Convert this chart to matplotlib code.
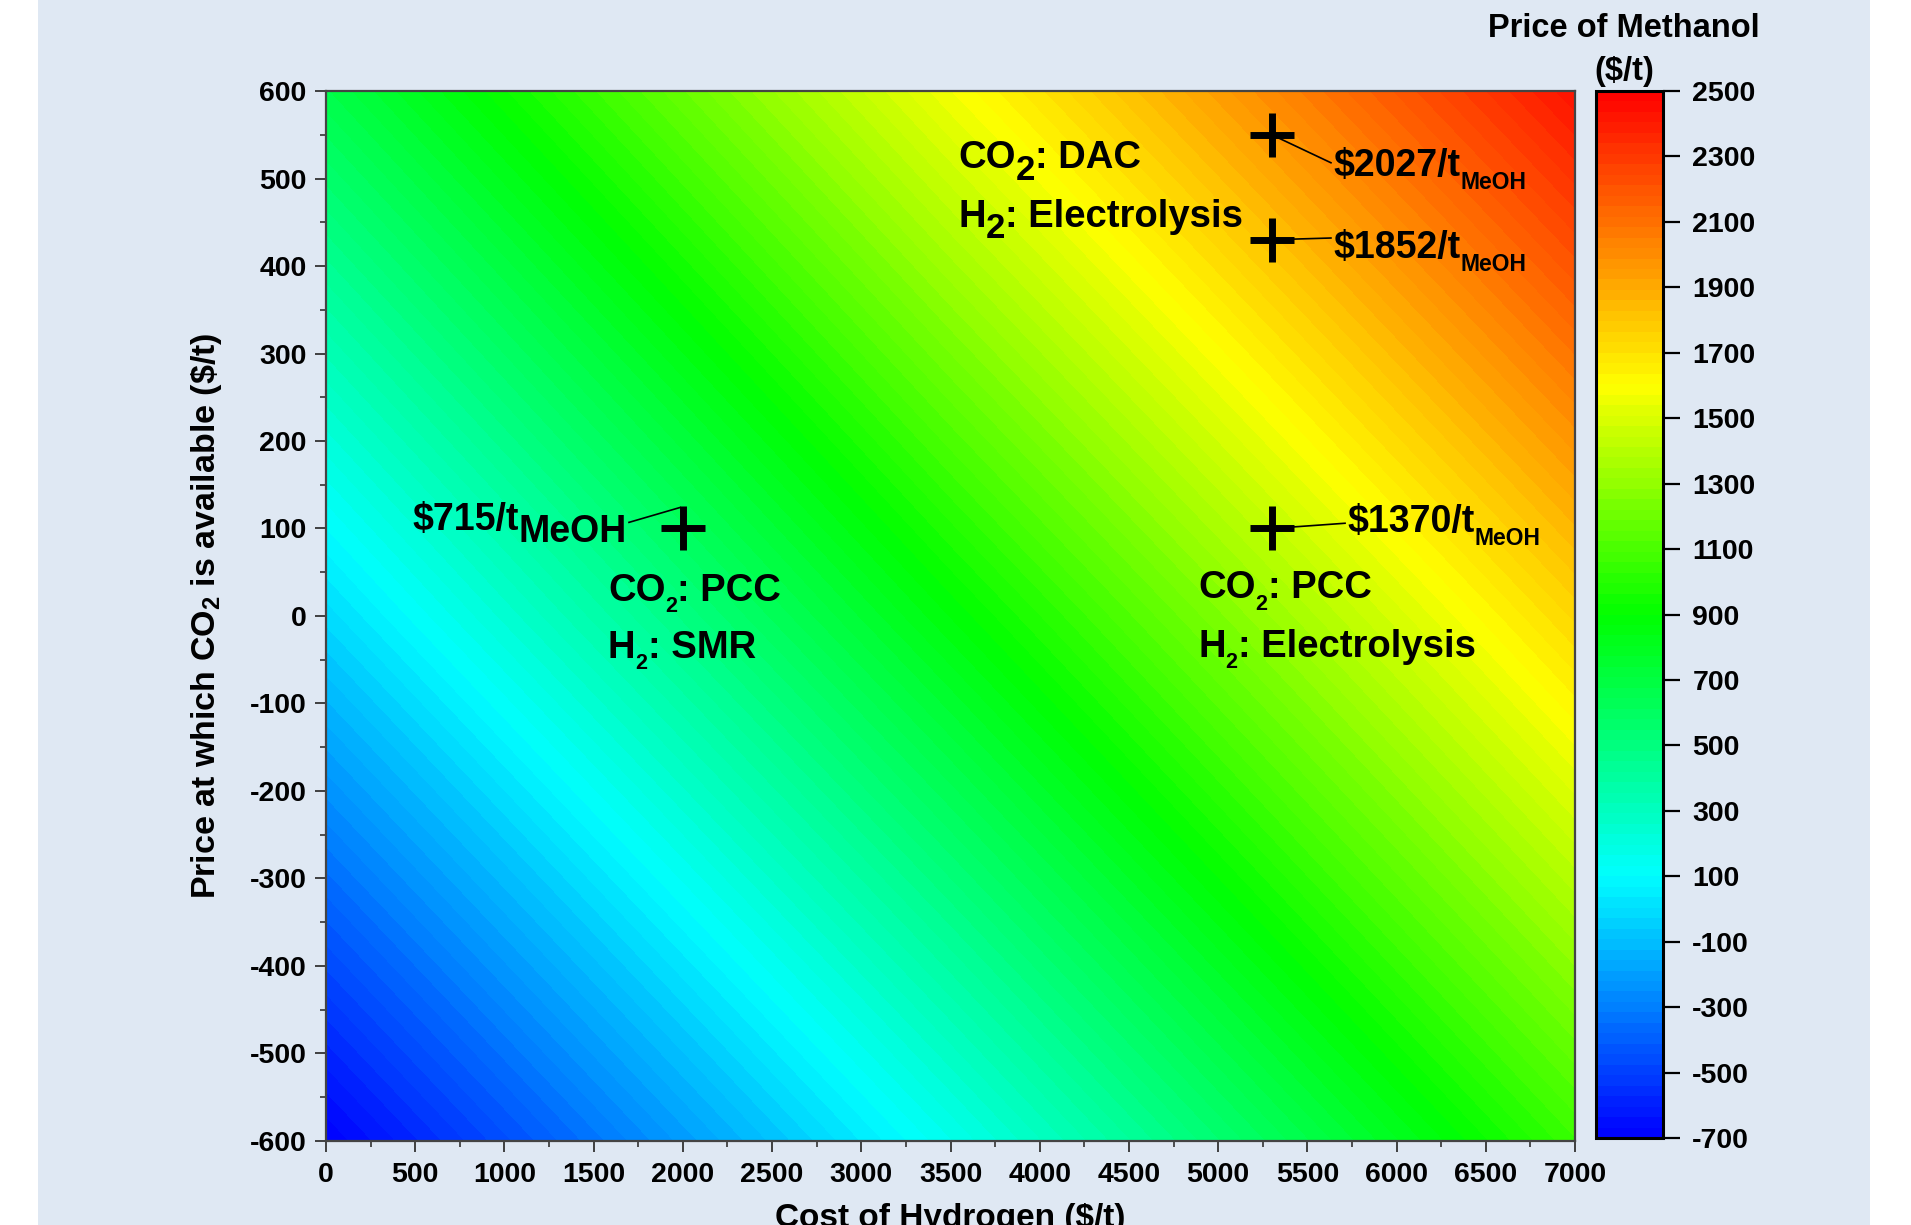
import numpy as np
import matplotlib
matplotlib.use('Agg')
import matplotlib.pyplot as plt
from matplotlib.colors import LinearSegmentedColormap
from matplotlib.patches import Rectangle
from matplotlib import transforms

plt.rcParams['font.family'] = ['Liberation Sans', 'DejaVu Sans']
plt.rcParams['font.weight'] = 'bold'
plt.rcParams['axes.labelweight'] = 'bold'
plt.rcParams['axes.unicode_minus'] = False
plt.rcParams['mathtext.fontset'] = 'custom'
plt.rcParams['mathtext.rm'] = 'Liberation Sans:bold'
plt.rcParams['mathtext.bf'] = 'Liberation Sans:bold'
plt.rcParams['mathtext.it'] = 'Liberation Sans:bold'

# methanol price surface (rows: CO2 price, cols: H2 cost)
grid_h2 = [0, 3500, 7000]
grid_co2 = [-600, 0, 600]
surface = [[-700, 160, 1055],
           [-15, 870, 1740],
           [670, 1570, 2430]]

# marked cases
h2_cost = [2000, 5300, 5300, 5300]
co2_price = [100, 100, 430, 550]
meoh_price = [715, 1370, 1852, 2027]

x_ticks = list(range(0, 7001, 500))
y_ticks = list(range(-600, 601, 100))
cb_ticks = list(range(-700, 2501, 200))

# rainbow palette (blue -> cyan -> green -> yellow -> red)
cmap = LinearSegmentedColormap.from_list(
    'rainbow_pal', [(0.0, '#0000ff'), (0.25, '#00ffff'), (0.5, '#00ff00'),
                    (0.72, '#ffff00'), (1.0, '#ff0000')])
levels = np.linspace(-700, 2500, 101)

fig = plt.figure(figsize=(19.11, 12.25), dpi=100)
fig.patch.set_facecolor('white')
fig.add_artist(Rectangle((38 / 1911, 0), 1832 / 1911, 1, transform=fig.transFigure,
                         facecolor='#dfe8f3', edgecolor='none', zorder=-10))

ax = fig.add_axes([0.1706, 0.0686, 0.6536, 0.8571])
cax = fig.add_axes([0.8352, 0.0710, 0.0351, 0.8547])

cf = ax.contourf(grid_h2, grid_co2, surface, levels=levels, cmap=cmap)
ax.set_xlim(0, 7000)
ax.set_ylim(-600, 600)
ax.set_xticks(x_ticks)
ax.set_yticks(y_ticks)
ax.set_xticks(np.arange(250, 7000, 500), minor=True)
ax.set_yticks(np.arange(-550, 600, 100), minor=True)
ax.tick_params(which='major', direction='out', length=8, width=1.3, color='#333333',
               labelsize=20.5)
ax.tick_params(which='minor', direction='out', length=4, width=1.2, color='#333333')
ax.tick_params(axis='x', pad=7.5)
ax.tick_params(axis='y', pad=6)
for sp in ax.spines.values():
    sp.set_color('#444444')
    sp.set_linewidth(1.6)

ax.set_xlabel('Cost of Hydrogen ($/t)', fontsize=24)
ax.xaxis.set_label_coords(0.5, -0.059)
ax.set_ylabel(r'Price at which CO$_\mathbf{2}$ is available (\$/t)', fontsize=24.5)
ax.yaxis.set_label_coords(-0.082, 0.5)

# markers
ax.plot(h2_cost, co2_price, linestyle='none', marker='+', ms=32, mew=5,
        color='black', zorder=5)


def draw_pieces(x, y, pieces):
    renderer = fig.canvas.get_renderer()
    dx = 0.0
    for text, size, drop in pieces:
        tr = transforms.offset_copy(ax.transData, fig=fig, x=dx, y=-drop, units='points')
        t = ax.text(x, y, text, fontsize=size, fontweight='bold', transform=tr,
                    ha='left', va='baseline', zorder=6)
        dx += t.get_window_extent(renderer).width * 72 / fig.dpi


# price labels and leader lines
label_pos = [(482, 98), (5722, 96), (5644, 409), (5644, 503)]
leader_from = [(1984, 124), (5300, 100), (5300, 430), (5300, 550)]
leader_to = [(1698, 107), (5711, 106), (5632, 432), (5632, 518)]
for i, price in enumerate(meoh_price):
    (x0, y0), (x1, y1) = leader_from[i], leader_to[i]
    ax.plot([x0, x1], [y0, y1], color='black', lw=1.2, zorder=5)
    sub = ('MeOH', 27, 8.6) if i == 0 else ('MeOH', 16.5, 9.4)
    draw_pieces(*label_pos[i], [('$%d/t' % price, 27, 0), sub])

# route labels
draw_pieces(3542, 512, [('CO', 27.5, 0), ('2', 25, 8.5), (': DAC', 27.5, 0)])
draw_pieces(3542, 445, [('H', 27.5, 0), ('2', 25, 8.5), (': Electrolysis', 27.5, 0)])
draw_pieces(1580, 17, [('CO', 27.5, 0), ('2', 15.5, 8), (': PCC', 27.5, 0)])
draw_pieces(1580, -48, [('H', 27.5, 0), ('2', 15.5, 8), (': SMR', 27.5, 0)])
draw_pieces(4887, 20, [('CO', 27.5, 0), ('2', 15.5, 8), (': PCC', 27.5, 0)])
draw_pieces(4887, -47, [('H', 27.5, 0), ('2', 15.5, 8), (': Electrolysis', 27.5, 0)])

# colour bar
cb = fig.colorbar(cf, cax=cax, ticks=cb_ticks)
cb.minorticks_off()
cb.outline.set_linewidth(2.2)
cb.outline.set_edgecolor('black')
cax.tick_params(length=12, width=1.6, labelsize=20.5, pad=9, color='black')
fig.text(0.8498, 0.9698, 'Price of Methanol', ha='center', va='baseline', fontsize=23.5)
fig.text(0.8498, 0.9347, '($/t)', ha='center', va='baseline', fontsize=23.5)

fig.savefig('out.png', dpi=100)
